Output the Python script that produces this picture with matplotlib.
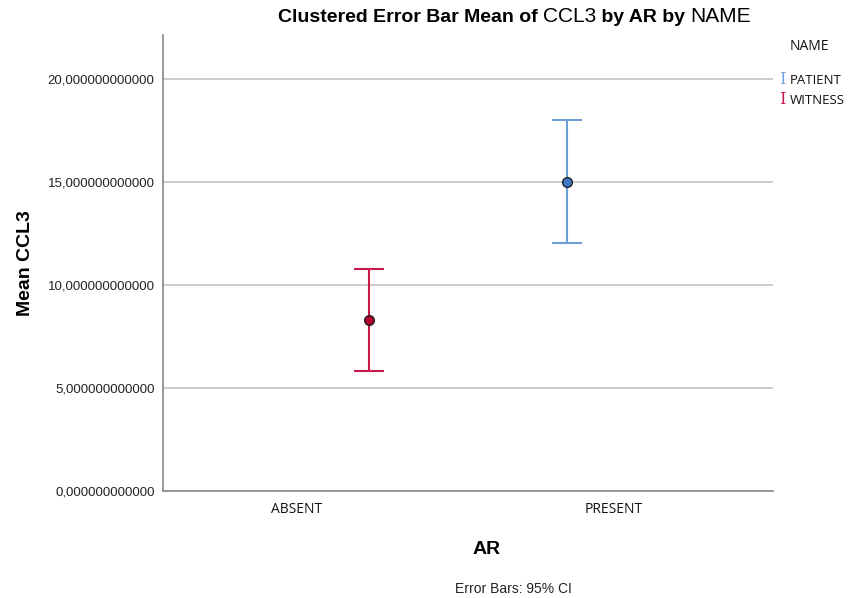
import matplotlib.pyplot as plt
import numpy as np

# data
categories = ["ABSENT", "PRESENT"]
groups = ["PATIENT", "WITNESS"]
# category index, mean and 95% CI bounds for each group
patient_cat = [1]
patient_mean = [15.0]
patient_low = [12.04]
patient_high = [18.02]
witness_cat = [0]
witness_mean = [8.30]
witness_low = [5.83]
witness_high = [10.79]
yticks = [0, 5, 10, 15, 20]

blue = "#6fa0d8"
blue_fill = "#3f78c8"
red = "#c8194a"
red_fill = "#b3002d"

fig = plt.figure(figsize=(8.48, 5.98), dpi=100)
ax = fig.add_axes([0.1922, 0.1789, 0.7194, 0.7626])

off = 0.187

def draw(cats, mean, low, high, shift, col, fill):
    x = np.array(cats) + shift
    m = np.array(mean)
    err = [m - np.array(low), np.array(high) - m]
    ax.errorbar(x, m, yerr=err, fmt="none", ecolor=col, elinewidth=1.5,
                capsize=10.5, capthick=1.5, zorder=3)
    ax.plot(x, m, "o", color=fill, markeredgecolor="#222222",
            markeredgewidth=1.0, markersize=7, zorder=4)

draw(patient_cat, patient_mean, patient_low, patient_high, -off, blue, blue_fill)
draw(witness_cat, witness_mean, witness_low, witness_high, off, red, red_fill)

ax.set_xlim(-0.46, 1.46)
ax.set_ylim(0, 22.14)
ax.set_yticks(yticks)
ax.set_yticklabels(["%d,000000000000" % v for v in yticks],
                   fontsize=9.5, family="Liberation Sans", color="#222222")
ax.set_xticks([-0.04, 0.96])
ax.set_xticklabels(categories, fontsize=10, family="Open Sans", color="#111111")
ax.tick_params(axis="both", length=0, pad=6)
ax.tick_params(axis="x", pad=8)

ax.grid(axis="y", color="#c4c4c4", linewidth=1.2)
ax.set_axisbelow(True)
for s in ["top", "right"]:
    ax.spines[s].set_visible(False)
for s in ["left", "bottom"]:
    ax.spines[s].set_color("#888888")
    ax.spines[s].set_linewidth(1.2)

ax.set_ylabel("Mean CCL3", fontsize=14, fontweight="bold",
              family="Liberation Sans", labelpad=10)
fig.text(487 / 848, 1 - 550 / 598, "AR", fontsize=14, fontweight="bold",
         family="Liberation Sans", ha="center", va="center")
fig.text(513 / 848, 1 - 589 / 598, "Error Bars: 95% CI", fontsize=10,
         family="Liberation Sans", ha="center", va="center", color="#222222")

# title, mixed weights
parts = [("Clustered Error Bar Mean of ", "bold"), ("CCL3", "normal"),
         (" by AR by ", "bold"), ("NAME", "normal")]
prev = fig.text(278 / 848, 1 - 17 / 598, parts[0][0], fontsize=14,
                fontweight="bold", family="Liberation Sans", va="center")
for txt, w in parts[1:]:
    prev = ax.annotate(txt, xy=(1, 0), xycoords=prev, va="bottom",
                       fontsize=14 if w == "bold" else 15, fontweight=w,
                       family="Liberation Sans", annotation_clip=False)

# legend
fig.text(790 / 848, 1 - 47 / 598, "NAME", fontsize=10, family="Open Sans",
         va="center", color="#111111")
for name, col, yy in [(groups[0], blue, 80), (groups[1], red, 100)]:
    fig.text(779 / 848, 1 - yy / 598, "I", fontsize=12, family="DejaVu Serif",
             color=col, va="center")
    fig.text(790 / 848, 1 - yy / 598, name, fontsize=9.5, family="Open Sans",
             va="center", color="#111111")

fig.savefig("out.png", dpi=100)
